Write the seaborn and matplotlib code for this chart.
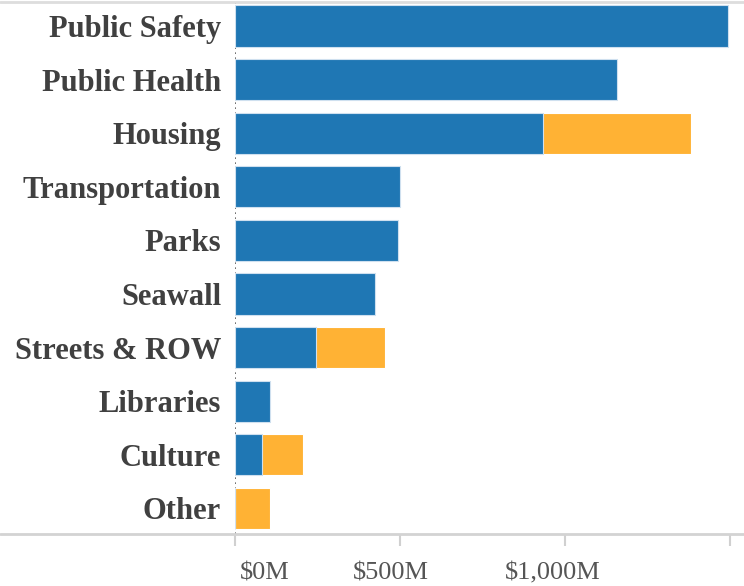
import matplotlib
matplotlib.use('Agg')
import matplotlib.pyplot as plt
import matplotlib.transforms as mtransforms
from matplotlib.lines import Line2D
import seaborn as sns
import pandas as pd

sns.set_theme(style='white')
plt.rcParams['font.family'] = ['Liberation Serif', 'DejaVu Serif']

# Capital spending by department ($M)
categories = ['Public Safety', 'Public Health', 'Housing', 'Transportation', 'Parks',
              'Seawall', 'Streets & ROW', 'Libraries', 'Culture', 'Other']
blue_part = [1495, 1158, 933, 500, 493, 423, 245, 106, 82, 0]
orange_part = [0, 0, 449, 0, 0, 0, 209, 0, 124, 106]
tick_values = [0, 500, 1000, 1500]
tick_labels = ['$0M', '$500M', '$1,000M', '']

BLUE = '#1F77B4'
ORANGE = '#FFB234'

df = pd.DataFrame({'category': categories, 'blue': blue_part, 'orange': orange_part})
df['total'] = df['blue'] + df['orange']

W, H = 744, 586
fig = plt.figure(figsize=(W / 100, H / 100), dpi=100)
ax = fig.add_axes([235 / W, (H - 534) / H, (W - 235) / W, 532 / H])

# dotted zero line peeking out between bars
ax.axvline(0, color='#555555', linestyle=(0, (1, 2)), linewidth=1.2, zorder=0)

# stacked bars: total in orange, blue share drawn on top
sns.barplot(data=df, x='total', y='category', color=ORANGE, width=0.77,
            edgecolor='#ffffff', linewidth=0.8, saturation=1, ax=ax, zorder=2)
sns.barplot(data=df, x='blue', y='category', color=BLUE, width=0.77,
            edgecolor='#cfe0ef', linewidth=0.8, saturation=1, ax=ax, zorder=3)

ax.set_xlim(0, (W - 235) / 0.33)
ax.set_ylim(9.478, -0.448)
ax.set_xlabel('')
ax.set_ylabel('')
for s in ax.spines.values():
    s.set_visible(False)

ax.set_xticks(tick_values)
ax.set_xticklabels(tick_labels, fontsize=19, color='#555555')
ax.tick_params(axis='x', length=8.5, width=1.5, color='#d0d0d0', pad=12, bottom=True)
ax.tick_params(axis='y', length=0, pad=10)
for lab in ax.get_yticklabels():
    lab.set_fontsize(22)
    lab.set_fontweight('bold')
    lab.set_color('#404040')

# shift x labels like the original (first one left-aligned, rest pulled left)
shifts = [5, -9, -12, 0]
for lab, dx in zip(ax.get_xticklabels(), shifts):
    if dx > 0:
        lab.set_ha('left')
    lab.set_transform(lab.get_transform() + mtransforms.ScaledTranslation(dx / 100, 0, fig.dpi_scale_trans))

# full-width gray rules at top and bottom
fig.add_artist(Line2D([0, 1], [(H - 2) / H] * 2, color='#dddddd', linewidth=2))
fig.add_artist(Line2D([0, 1], [(H - 534) / H] * 2, color='#d3d3d3', linewidth=2))

fig.savefig('out.png', dpi=100)
